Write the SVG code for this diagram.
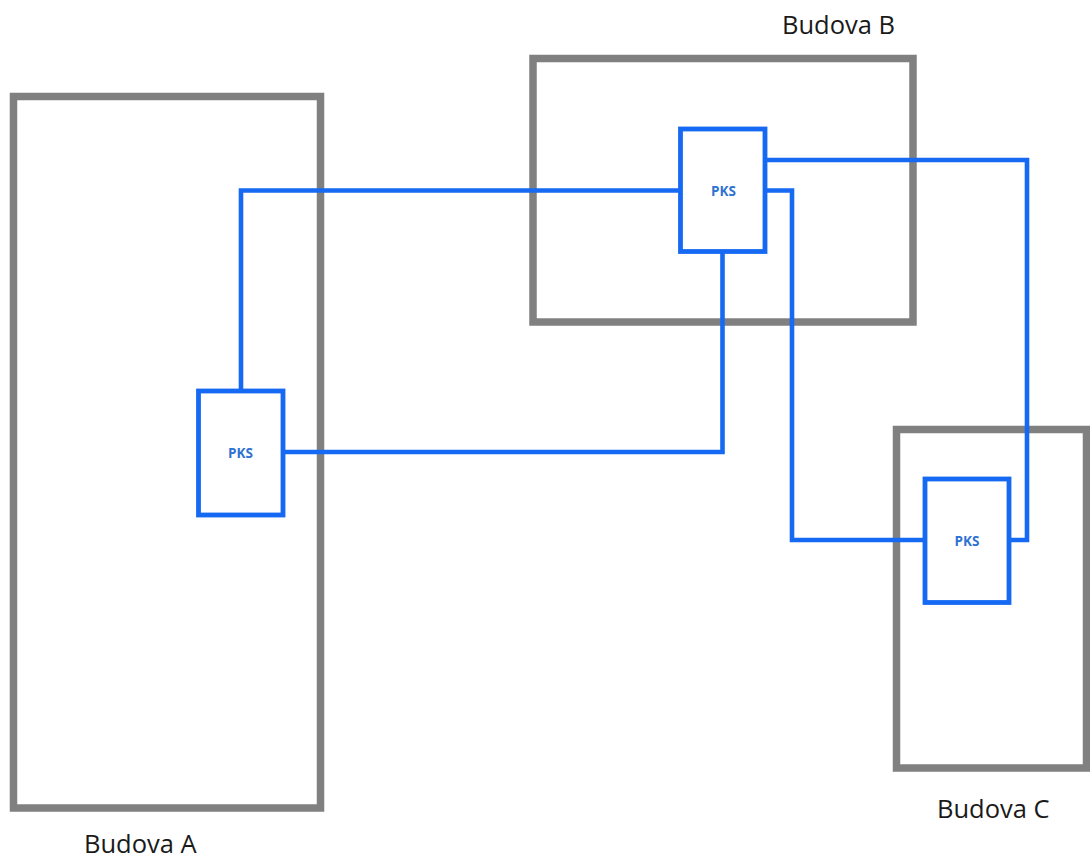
<svg xmlns="http://www.w3.org/2000/svg" width="1090" height="862" viewBox="0 0 1090 862">
<style>
.bld{fill:none;stroke:#808080;stroke-width:7.5}
.lbl{font-family:"Open Sans","Noto Sans","Liberation Sans",sans-serif;font-size:25.5px;fill:#1a1a1a}
.pks{fill:#ffffff;stroke:#1669f2;stroke-width:4.8}
.pkt{font-family:"Open Sans","Liberation Sans",sans-serif;font-size:13.5px;font-weight:bold;fill:#2f72d2;text-anchor:middle}
.wire{fill:none;stroke:#1669f2;stroke-width:4.6;stroke-linejoin:miter}
</style>
<rect width="1090" height="862" fill="#ffffff"/>
<g id="budova-a">
<rect class="bld" x="13.5" y="96.5" width="307" height="711.5"/>
<text class="lbl" x="84" y="853">Budova A</text>
</g>
<g id="budova-b">
<rect class="bld" x="533" y="58.5" width="380" height="263.5"/>
<text class="lbl" x="782" y="34">Budova B</text>
</g>
<g id="budova-c">
<rect class="bld" x="896.5" y="429.5" width="190" height="338.5"/>
<text class="lbl" x="937" y="817.5">Budova C</text>
</g>
<g id="connectors">
<path class="wire" d="M241,391 V190.5 H680.5"/>
<path class="wire" d="M283,452 H722.5 V251.5"/>
<path class="wire" d="M765,160 H1027 V540 H1009"/>
<path class="wire" d="M765,190.5 H792 V540 H925"/>
</g>
<g id="pks-a">
<rect class="pks" x="198.5" y="391" width="84.5" height="124"/>
<text class="pkt" x="240.5" y="458">PKS</text>
</g>
<g id="pks-b">
<rect class="pks" x="680.5" y="129" width="84.5" height="122.5"/>
<text class="pkt" x="723.5" y="195.5">PKS</text>
</g>
<g id="pks-c">
<rect class="pks" x="925" y="479" width="84" height="123.5"/>
<text class="pkt" x="967" y="546">PKS</text>
</g>
</svg>
